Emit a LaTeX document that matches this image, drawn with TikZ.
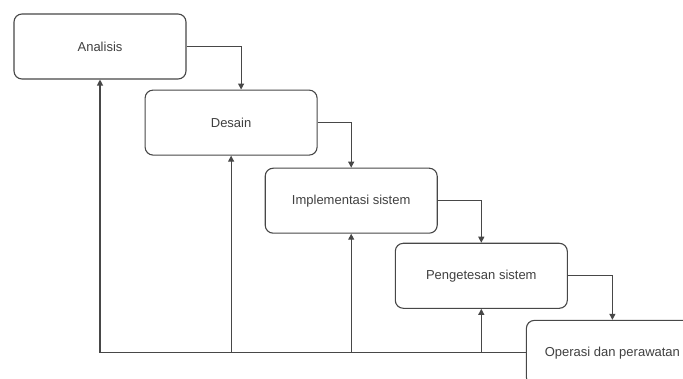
\documentclass[tikz,border=0pt]{standalone}
\usepackage{fontspec}
\setmainfont{Liberation Sans}
\usetikzlibrary{arrows.meta,positioning}
\definecolor{garisabu}{rgb}{0.28,0.28,0.28}
\tikzset{
  tahap/.style={
    rounded corners=8pt,
    draw=garisabu,
    line width=1.1pt,
    fill=white,
    align=center,
    minimum width=172pt,
    minimum height=65pt,
    inner sep=0pt,
    text=black!75,
    font=\fontsize{13}{15}\selectfont
  },
  arrow/.style={
    -{Triangle[length=6pt,width=6pt]},
    line width=1.1pt,
    garisabu
  }
}
\begin{document}
\begin{tikzpicture}[x=1pt,y=1pt]
\clip (0,0) rectangle (683,378);
\node[tahap] (a) at (100,331.5) {Analisis};
\node[tahap, below right=10pt and -42pt of a] (b) {Desain};
\node[tahap, below right=12pt and -53pt of b] (c) {Implementasi sistem};
\node[tahap, below right=9pt and -43pt of c] (d) {Pengetesan sistem};
\node[tahap, below right=11pt and -42pt of d] (e) {Operasi dan perawatan};
% alur ke bawah
\draw[arrow] (a.east) -| ([xshift=10pt]b.north);
\draw[arrow] (b.east) -| (c.north);
\draw[arrow] (c.east) -| (d.north);
\draw[arrow] (d.east) -| (e.north);
% umpan balik
\draw[arrow] (e.west) -| (a.south);
\draw[arrow] (b.south |- e.west) -- (b.south);
\draw[arrow] (c.south |- e.west) -- (c.south);
\draw[arrow] (d.south |- e.west) -- (d.south);
\end{tikzpicture}
\end{document}
